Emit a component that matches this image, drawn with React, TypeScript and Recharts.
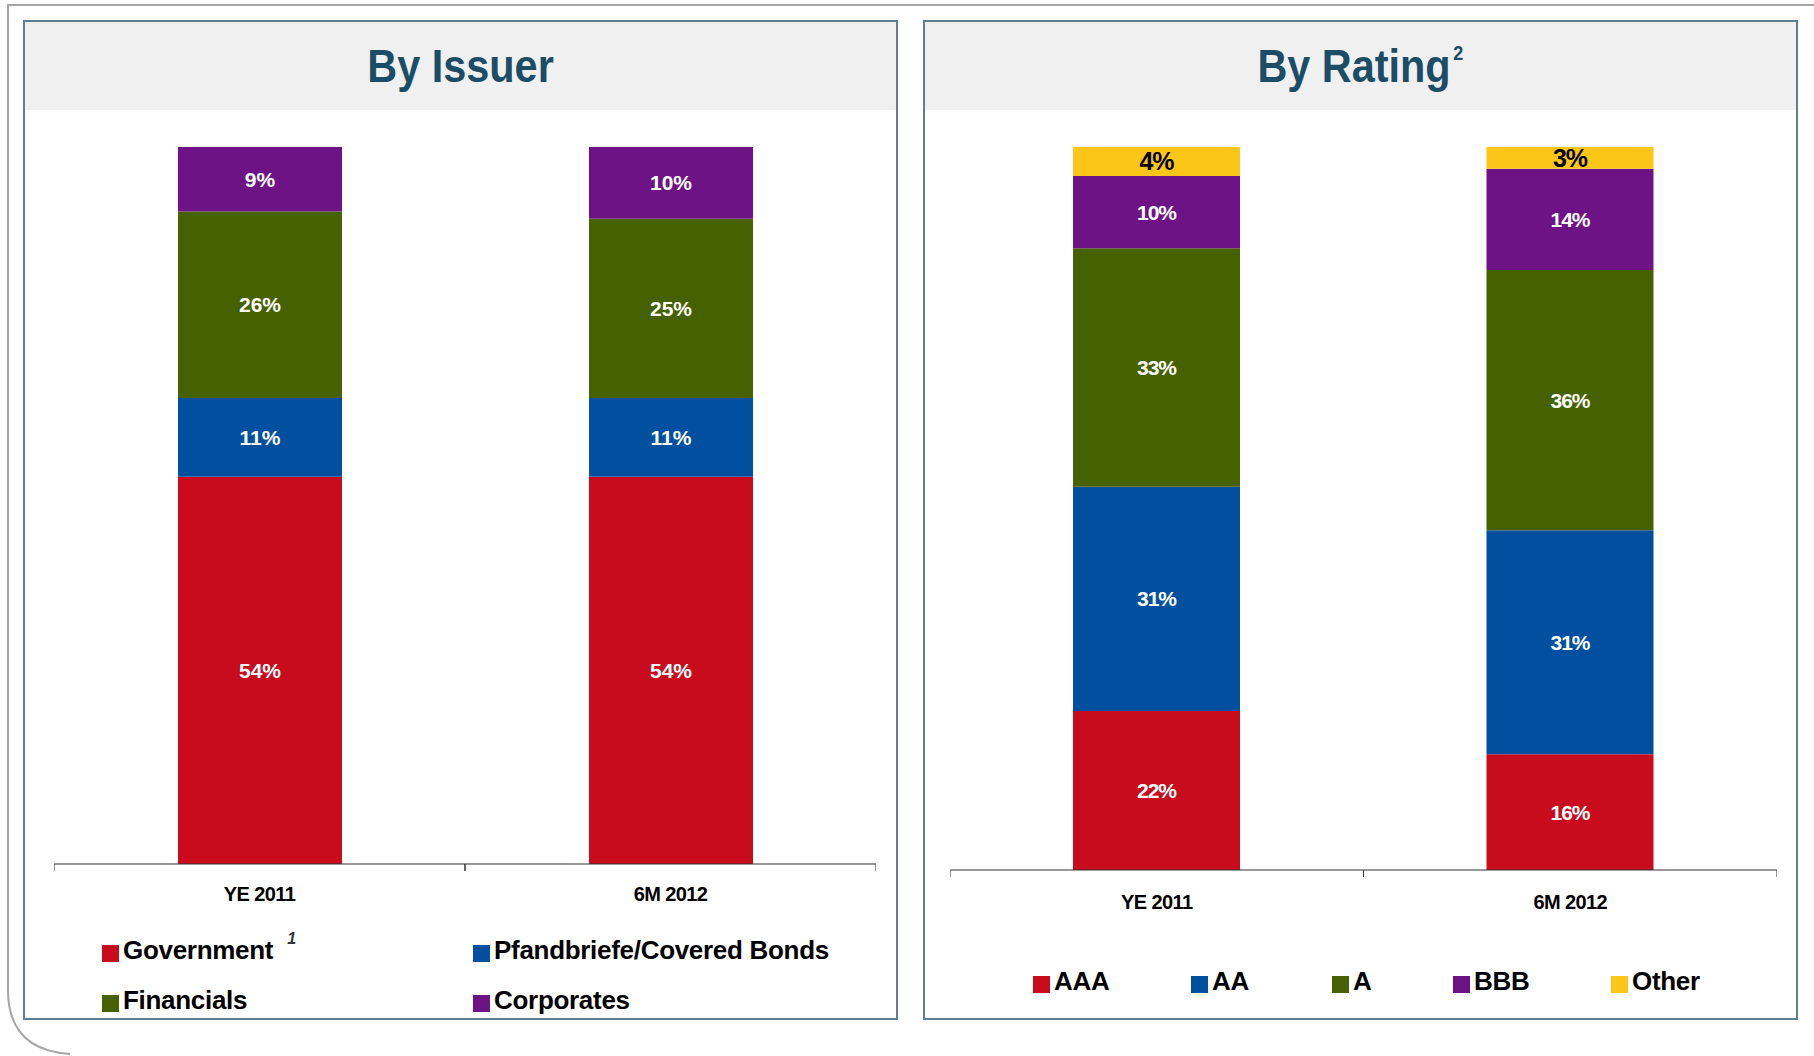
import React from 'react'
import { BarChart, Bar, XAxis, YAxis, LabelList } from 'recharts'

const categories = ['YE 2011', '6M 2012']

// By Issuer
const government = [54, 54]
const pfandbriefe = [11, 11]
const financials = [26, 25]
const corporates = [9, 10]

// By Rating
const ratingAAA = [22, 16]
const ratingAA = [31, 31]
const ratingA = [33, 36]
const ratingBBB = [10, 14]
const ratingOther = [4, 3]

const RED = '#c80c1e'
const BLUE = '#00509f'
const GREEN = '#466200'
const PURPLE = '#6e1385'
const YELLOW = '#fbc617'

const FONT = '"Liberation Sans", Arial, sans-serif'
const TOP_PAD = 20

const issuerSeries = [
  { key: 'government', name: 'Government', color: RED, values: government },
  { key: 'pfandbriefe', name: 'Pfandbriefe/Covered Bonds', color: BLUE, values: pfandbriefe },
  { key: 'financials', name: 'Financials', color: GREEN, values: financials },
  { key: 'corporates', name: 'Corporates', color: PURPLE, values: corporates },
]

const ratingSeries = [
  { key: 'aaa', name: 'AAA', color: RED, values: ratingAAA },
  { key: 'aa', name: 'AA', color: BLUE, values: ratingAA },
  { key: 'a', name: 'A', color: GREEN, values: ratingA },
  { key: 'bbb', name: 'BBB', color: PURPLE, values: ratingBBB },
  { key: 'other', name: 'Other', color: YELLOW, values: ratingOther },
]

type Series = { key: string; name: string; color: string; values: number[] }

function buildRows(series: Series[]) {
  return categories.map((cat, i) => {
    const row: Record<string, string | number> = { cat }
    series.forEach((s) => (row[s.key] = s.values[i]))
    return row
  })
}

const issuerRows = buildRows(issuerSeries)
const ratingRows = buildRows(ratingSeries)

function makeTick(band: number, labelOffset: number) {
  return (props: any) => {
    const { x, y, payload } = props
    return (
      <g>
        <line x1={x - band / 2} y1={y} x2={x - band / 2} y2={y + 7} stroke="#333" />
        <line x1={x + band / 2} y1={y} x2={x + band / 2} y2={y + 7} stroke="#333" />
        <text
          x={x}
          y={y + labelOffset}
          textAnchor="middle"
          fontFamily={FONT}
          fontWeight="bold"
          fontSize={20}
          letterSpacing={-0.6}
          fill="#000"
        >
          {payload.value}
        </text>
      </g>
    )
  }
}

function StackChart({
  rows,
  series,
  width,
  plotHeight,
  barSize,
  labelOffset,
  condensed,
}: {
  rows: any[]
  series: Series[]
  width: number
  plotHeight: number
  barSize: number
  labelOffset: number
  condensed?: boolean
}) {
  const band = width / categories.length
  return (
    <BarChart
      width={width}
      height={plotHeight + 60 + TOP_PAD}
      data={rows}
      margin={{ top: TOP_PAD, right: 0, bottom: 0, left: 0 }}
    >
      <YAxis hide domain={[0, 100]} type="number" />
      <XAxis
        dataKey="cat"
        height={60}
        axisLine={{ stroke: '#333', strokeWidth: 1 }}
        tickLine={false}
        tickSize={0}
        tickMargin={0}
        tick={makeTick(band, labelOffset)}
        interval={0}
      />
      {series.map((s) => {
        const isOther = s.key === 'other'
        return (
          <Bar key={s.key} dataKey={s.key} stackId="a" fill={s.color} barSize={barSize} isAnimationActive={false}>
            <LabelList
              dataKey={s.key}
              position="center"
              formatter={(v: any) => `${v}%`}
              fill={isOther ? '#000' : '#fff'}
              fontFamily={FONT}
              fontWeight="bold"
              fontSize={isOther ? 25 : 21}
              letterSpacing={condensed ? -1 : 0}
            />
          </Bar>
        )
      })}
    </BarChart>
  )
}

function Swatch({ color }: { color: string }) {
  return <span style={{ display: 'inline-block', width: 17, height: 17, background: color, marginRight: 4, marginTop: 6 }} />
}

function LegendItem({ s, left, top, sup }: { s: Series; left: number; top: number; sup?: string }) {
  return (
    <div
      style={{
        position: 'absolute',
        left,
        top,
        display: 'flex',
        alignItems: 'center',
        fontFamily: FONT,
        fontWeight: 'bold',
        fontSize: 26,
        color: '#000',
        lineHeight: '30px',
        letterSpacing: -0.3,
        whiteSpace: 'nowrap',
      }}
    >
      <Swatch color={s.color} />
      <span>{s.name}</span>
      {sup && (
        <span style={{ fontSize: 16, fontStyle: 'italic', fontWeight: 'bold', color: '#333', marginLeft: 14, marginTop: -22 }}>
          {sup}
        </span>
      )}
    </div>
  )
}

function Panel({ left, width, title, sup }: { left: number; width: number; title: string; sup?: string }) {
  return (
    <div
      style={{
        position: 'absolute',
        left,
        top: 20,
        width,
        height: 1000,
        boxSizing: 'border-box',
        border: '2px solid #5f7f8e',
        background: '#fff',
      }}
    >
      <div
        style={{
          height: 88,
          background: '#f0f0f0',
          display: 'flex',
          alignItems: 'center',
          justifyContent: 'center',
        }}
      >
        <div
          style={{
            fontFamily: FONT,
            fontWeight: 'bold',
            fontSize: 46,
            color: '#1b4e66',
            transform: 'scaleX(0.9)',
            whiteSpace: 'nowrap',
          }}
        >
          {title}
          {sup && <sup style={{ fontSize: 20, position: 'relative', top: -6, marginLeft: 3 }}>{sup}</sup>}
        </div>
      </div>
    </div>
  )
}

export default function App() {
  return (
    <div style={{ position: 'absolute', left: 0, top: 0, width: 1814, height: 1056, background: '#fff', overflow: 'hidden' }}>
      <svg width={1814} height={1056} style={{ position: 'absolute', left: 0, top: 0 }}>
        <path d="M 1814 5 L 8 5 L 8 990 Q 8 1050 70 1054" fill="none" stroke="#a6a6a6" strokeWidth={2} />
      </svg>

      <Panel left={23} width={875} title="By Issuer" />
      <Panel left={923} width={875} title="By Rating" sup="2" />

      <div style={{ position: 'absolute', left: 54, top: 147 - TOP_PAD }}>
        <StackChart rows={issuerRows} series={issuerSeries} width={822} plotHeight={717} barSize={164} labelOffset={37} />
      </div>
      <div style={{ position: 'absolute', left: 950, top: 147 - TOP_PAD }}>
        <StackChart rows={ratingRows} series={ratingSeries} width={827} plotHeight={723} barSize={167} labelOffset={39} condensed />
      </div>

      <LegendItem s={issuerSeries[0]} left={102} top={935} sup="1" />
      <LegendItem s={issuerSeries[1]} left={473} top={935} />
      <LegendItem s={issuerSeries[2]} left={102} top={985} />
      <LegendItem s={issuerSeries[3]} left={473} top={985} />

      {ratingSeries.map((s, i) => (
        <LegendItem key={s.key} s={s} left={[1033, 1191, 1332, 1453, 1611][i]} top={966} />
      ))}
    </div>
  )
}
